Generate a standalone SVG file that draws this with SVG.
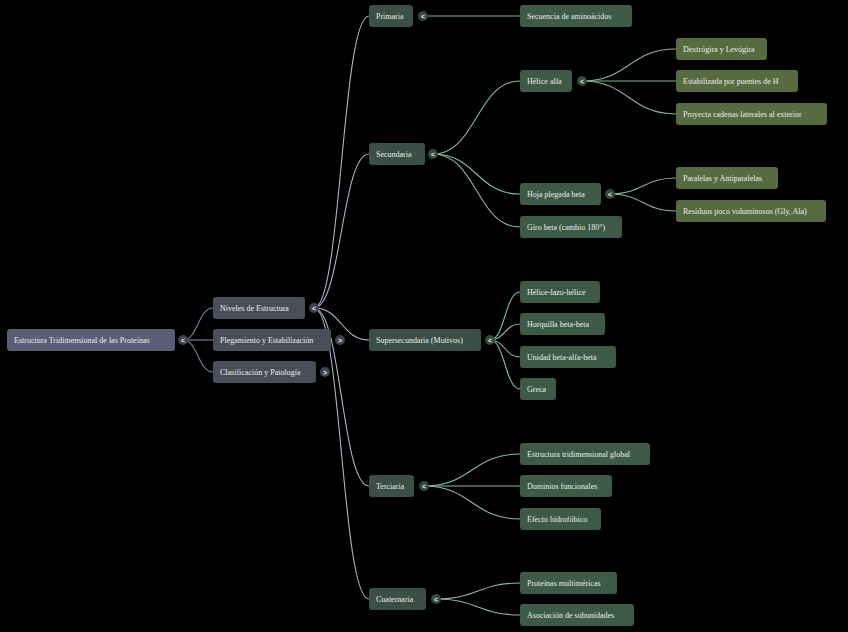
<svg xmlns="http://www.w3.org/2000/svg" width="848" height="632" viewBox="0 0 848 632">
<style>
text{font-family:"Liberation Serif","Times New Roman",serif;font-size:8px;fill:#ececec}
.n rect{rx:3;ry:3}
.r rect{fill:#5b5d76}
.l1 rect{fill:#4a4e5b}
.l2 rect{fill:#3a4f45}
.l3 rect{fill:#3c5a46}
.l4 rect{fill:#566b3f}
.t circle{r:5}
.t text{font-family:"Liberation Sans",Arial,sans-serif;font-size:7px;font-weight:bold;text-anchor:middle;fill:#f0f0f0}
.tg circle{fill:#3f4250}
.tgg circle{fill:#324a3d}
#connectors path{fill:none;stroke-width:1.1}
.c0{stroke:#7f82a6}
.c1{stroke:#a9b7cb}
.c2{stroke:#88b9a2}
.c3{stroke:#86b493}
</style>
<rect width="848" height="632" fill="#000"/>
<g id="connectors">
<path class="c0" d="M183 340 C198 340 198 308 213 308"/>
<path class="c0" d="M183 340 L213 340"/>
<path class="c0" d="M183 340 C198 340 198 372 213 372"/>
<path class="c1" d="M314 308 C341.5 308 341.5 16 369 16"/>
<path class="c1" d="M314 308 C341.5 308 341.5 154 369 154"/>
<path class="c1" d="M314 308 C341.5 308 341.5 340 369 340"/>
<path class="c1" d="M314 308 C341.5 308 341.5 486 369 486"/>
<path class="c1" d="M314 308 C341.5 308 341.5 599 369 599"/>
<path class="c2" d="M423 16 L520 16"/>
<path class="c2" d="M433 154 C476.5 154 476.5 81 520 81"/>
<path class="c2" d="M433 154 C476.5 154 476.5 194 520 194"/>
<path class="c2" d="M433 154 C476.5 154 476.5 227 520 227"/>
<path class="c2" d="M490 340 C505 340 505 292 520 292"/>
<path class="c2" d="M490 340 C505 340 505 324 520 324"/>
<path class="c2" d="M490 340 C505 340 505 357 520 357"/>
<path class="c2" d="M490 340 C505 340 505 389 520 389"/>
<path class="c2" d="M424 486 C472 486 472 454 520 454"/>
<path class="c2" d="M424 486 L520 486"/>
<path class="c2" d="M424 486 C472 486 472 519 520 519"/>
<path class="c2" d="M436 599 C478 599 478 583 520 583"/>
<path class="c2" d="M436 599 C478 599 478 615 520 615"/>
<path class="c3" d="M582 81 C629 81 629 49 676 49"/>
<path class="c3" d="M582 81 L676 81"/>
<path class="c3" d="M582 81 C629 81 629 114 676 114"/>
<path class="c3" d="M610 194 C643 194 643 178 676 178"/>
<path class="c3" d="M610 194 C643 194 643 211 676 211"/>
</g>
<g id="root" class="n r"><rect x="7" y="329" width="168" height="22"/><text x="14" y="343">Estructura Tridimensional de las Proteínas</text></g>
<g class="t tg"><circle cx="183" cy="340"/><text x="183" y="342.5">&lt;</text></g>
<g id="niveles" class="n l1"><rect x="213" y="297" width="92" height="22"/><text x="220" y="311">Niveles de Estructura</text></g>
<g class="t tg"><circle cx="314" cy="308"/><text x="314" y="310.5">&lt;</text></g>
<g id="plegamiento" class="n l1"><rect x="213" y="329" width="118" height="22"/><text x="220" y="343">Plegamiento y Estabilización</text></g>
<g class="t tg"><circle cx="340" cy="340"/><text x="340" y="342.5">&gt;</text></g>
<g id="clasificacion" class="n l1"><rect x="213" y="361" width="103" height="22"/><text x="220" y="375">Clasificación y Patología</text></g>
<g class="t tg"><circle cx="325" cy="372"/><text x="325" y="374.5">&gt;</text></g>
<g id="primaria" class="n l2"><rect x="369" y="5" width="44" height="22"/><text x="376" y="19">Primaria</text></g>
<g class="t tgg"><circle cx="423" cy="16"/><text x="423" y="18.5">&lt;</text></g>
<g id="secundaria" class="n l2"><rect x="369" y="143" width="56" height="22"/><text x="376" y="157">Secundaria</text></g>
<g class="t tgg"><circle cx="433" cy="154"/><text x="433" y="156.5">&lt;</text></g>
<g id="supersecundaria" class="n l2"><rect x="369" y="329" width="112" height="22"/><text x="376" y="343">Supersecundaria (Motivos)</text></g>
<g class="t tgg"><circle cx="490" cy="340"/><text x="490" y="342.5">&lt;</text></g>
<g id="terciaria" class="n l2"><rect x="369" y="475" width="45" height="22"/><text x="376" y="489">Terciaria</text></g>
<g class="t tgg"><circle cx="424" cy="486"/><text x="424" y="488.5">&lt;</text></g>
<g id="cuaternaria" class="n l2"><rect x="369" y="588" width="57" height="22"/><text x="376" y="602">Cuaternaria</text></g>
<g class="t tgg"><circle cx="436" cy="599"/><text x="436" y="601.5">&lt;</text></g>
<g id="secuencia" class="n l3"><rect x="520" y="5" width="112" height="22"/><text x="527" y="19">Secuencia de aminoácidos</text></g>
<g id="helice" class="n l3"><rect x="520" y="70" width="52" height="22"/><text x="527" y="84">Hélice alfa</text></g>
<g class="t tgg"><circle cx="582" cy="81"/><text x="582" y="83.5">&lt;</text></g>
<g id="hoja" class="n l3"><rect x="520" y="183" width="81" height="22"/><text x="527" y="197">Hoja plegada beta</text></g>
<g class="t tgg"><circle cx="610" cy="194"/><text x="610" y="196.5">&lt;</text></g>
<g id="giro" class="n l3"><rect x="520" y="216" width="102" height="22"/><text x="527" y="230">Giro beta (cambio 180°)</text></g>
<g id="hlh" class="n l3"><rect x="520" y="281" width="80" height="22"/><text x="527" y="295">Hélice-lazo-hélice</text></g>
<g id="horquilla" class="n l3"><rect x="520" y="313" width="85" height="22"/><text x="527" y="327">Horquilla beta-beta</text></g>
<g id="bab" class="n l3"><rect x="520" y="346" width="96" height="22"/><text x="527" y="360">Unidad beta-alfa-beta</text></g>
<g id="greca" class="n l3"><rect x="520" y="378" width="36" height="22"/><text x="527" y="392">Greca</text></g>
<g id="global" class="n l3"><rect x="520" y="443" width="130" height="22"/><text x="527" y="457">Estructura tridimensional global</text></g>
<g id="dominios" class="n l3"><rect x="520" y="475" width="92" height="22"/><text x="527" y="489">Dominios funcionales</text></g>
<g id="hidrofobico" class="n l3"><rect x="520" y="508" width="81" height="22"/><text x="527" y="522">Efecto hidrofóbico</text></g>
<g id="multimericas" class="n l3"><rect x="520" y="572" width="97" height="22"/><text x="527" y="586">Proteínas multiméricas</text></g>
<g id="subunidades" class="n l3"><rect x="520" y="604" width="114" height="22"/><text x="527" y="618">Asociación de subunidades</text></g>
<g id="dextro" class="n l4"><rect x="676" y="38" width="91" height="22"/><text x="683" y="52">Dextrógira y Levógira</text></g>
<g id="puentes" class="n l4"><rect x="676" y="70" width="122" height="22"/><text x="683" y="84">Estabilizada por puentes de H</text></g>
<g id="cadenas" class="n l4"><rect x="676" y="103" width="151" height="22"/><text x="683" y="117">Proyecta cadenas laterales al exterior</text></g>
<g id="paralelas" class="n l4"><rect x="676" y="167" width="102" height="22"/><text x="683" y="181">Paralelas y Antiparalelas</text></g>
<g id="residuos" class="n l4"><rect x="676" y="200" width="150" height="22"/><text x="683" y="214">Residuos poco voluminosos (Gly, Ala)</text></g>
</svg>
